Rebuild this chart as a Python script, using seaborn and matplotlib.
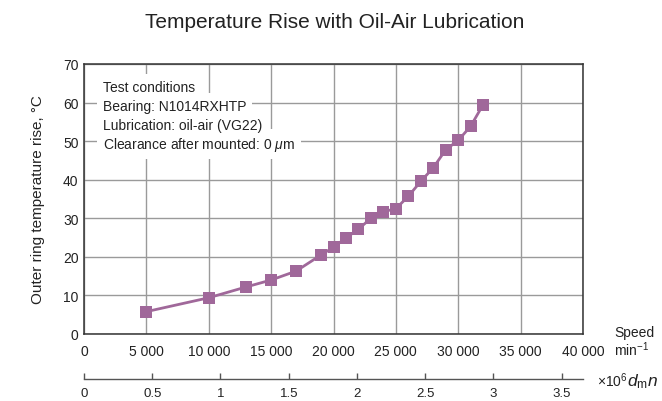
import matplotlib
matplotlib.use("Agg")
import matplotlib.pyplot as plt
import seaborn as sns
import pandas as pd
from matplotlib.ticker import FuncFormatter, FixedLocator

# ---- data ----
speed = [5000, 10000, 13000, 15000, 17000, 19000, 20000, 21000, 22000, 23000,
         24000, 25000, 26000, 27000, 28000, 29000, 30000, 31000, 32000]
temp_rise = [5.8, 9.4, 12.2, 14.0, 16.3, 20.5, 22.5, 24.9, 27.2, 30.0,
             31.7, 32.5, 35.7, 39.6, 43.1, 47.8, 50.2, 53.9, 59.5]
x_ticks = [0, 5000, 10000, 15000, 20000, 25000, 30000, 35000, 40000]
y_ticks = [0, 10, 20, 30, 40, 50, 60, 70]
dmn_ticks = [0, 0.5, 1, 1.5, 2, 2.5, 3, 3.5]
dm_mm = 91.4  # pitch diameter used for dmn scale
conditions = ["Test conditions", "Bearing: N1014RXHTP",
              "Lubrication: oil-air (VG22)", r"Clearance after mounted: 0 $\mu$m"]

df = pd.DataFrame({"speed": speed, "temp": temp_rise})

sns.set_theme(style="white")
plt.rcParams["font.family"] = ["Liberation Sans", "DejaVu Sans"]
plt.rcParams["mathtext.fontset"] = "custom"
plt.rcParams["mathtext.rm"] = "Liberation Sans"
plt.rcParams["mathtext.it"] = "Liberation Sans:italic"

W, H = 662, 402
fig = plt.figure(figsize=(6.62, 4.02), dpi=100)
ax = fig.add_axes([84 / W, 1 - 335 / H, (583 - 84) / W, (335 - 65) / H])

purple = "#a0689a"
sns.lineplot(data=df, x="speed", y="temp", ax=ax, color=purple, linewidth=2,
             marker="s", markersize=8, markeredgewidth=0, zorder=5)

ax.set_xlim(0, 40000)
ax.set_ylim(0, 70)
ax.xaxis.set_major_locator(FixedLocator(x_ticks))
ax.yaxis.set_major_locator(FixedLocator(y_ticks))
ax.xaxis.set_major_formatter(FuncFormatter(lambda v, p: f"{int(v):,}".replace(",", " ")))
ax.grid(True, color="#9a9a9a", linewidth=1)
ax.set_axisbelow(True)
for s in ax.spines.values():
    s.set_color("#333333")
    s.set_linewidth(1.1)
ax.tick_params(axis="x", length=0, pad=7, labelsize=10, colors="#222222")
ax.tick_params(axis="y", direction="in", length=5, width=1, color="#8a8a8a",
               pad=4, labelsize=10, labelcolor="#222222")
ax.set_xlabel("")
ax.set_ylabel("Outer ring temperature rise, °C", fontsize=11, color="#222222", labelpad=13)

# secondary dmn axis
sec = ax.secondary_xaxis((335 - 380) / 270,
                         functions=(lambda x: x * dm_mm / 1e6, lambda d: d * 1e6 / dm_mm))
sec.xaxis.set_major_locator(FixedLocator(dmn_ticks))
sec.xaxis.set_major_formatter(FuncFormatter(lambda v, p: f"{v:g}"))
sec.tick_params(direction="in", length=4, width=1, color="#555555", pad=5.5,
                labelsize=9.5, labelcolor="#222222")
for s in sec.spines.values():
    s.set_color("#555555")
    s.set_linewidth(1)

# conditions lines: white backdrops first, then the text on top
for i, line in enumerate(conditions):
    y = 1 - (88 + 19 * i) / H
    fig.text(103 / W, y, line, ha="left", va="center", fontsize=10, color="none",
             zorder=2, bbox=dict(facecolor="white", edgecolor="none", pad=4))
    fig.text(103 / W, y, line, ha="left", va="center", fontsize=10,
             color="#222222", zorder=3)

fig.text(335 / W, 1 - 22 / H, "Temperature Rise with Oil-Air Lubrication",
         ha="center", va="center", fontsize=15, color="#222222")
fig.text(614 / W, 1 - 333 / H, "Speed", ha="left", va="center", fontsize=10, color="#222222")
fig.text(614 / W, 1 - 350 / H, r"min$^{-1}$", ha="left", va="center", fontsize=10, color="#222222")
fig.text(597 / W, 1 - 381 / H, r"$\times$10$^6$", ha="left", va="center",
         fontsize=10, color="#222222")
fig.text(627 / W, 1 - 382 / H, r"$d_{\mathrm{m}}n$", ha="left", va="center",
         fontsize=12.5, color="#222222")

fig.savefig("out.png", dpi=100)
